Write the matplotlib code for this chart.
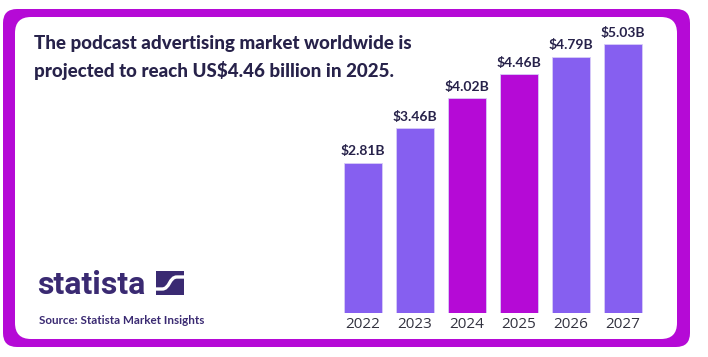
import matplotlib.pyplot as plt
from matplotlib.patches import FancyBboxPatch, Rectangle, PathPatch
from matplotlib.path import Path

years = ["2022", "2023", "2024", "2025", "2026", "2027"]
values = [2.81, 3.46, 4.02, 4.46, 4.79, 5.03]
labels = ["$2.81B", "$3.46B", "$4.02B", "$4.46B", "$4.79B", "$5.03B"]
highlight = [False, False, True, True, False, False]

W, H = 708, 357
LIGHT = "#865FF0"
MAGENTA = "#B50AD6"
NAVY = "#27224A"
LOGO = "#3A2A72"

fig = plt.figure(figsize=(W / 100, H / 100), dpi=100)
fig.patch.set_facecolor("white")

# background frame in pixel coordinates
bg = fig.add_axes([0, 0, 1, 1])
bg.set_xlim(0, W)
bg.set_ylim(H, 0)
bg.axis("off")
bg.add_patch(FancyBboxPatch((3 + 12, 9 + 12), 687 - 24, 338 - 24,
                            boxstyle="round,pad=12,rounding_size=14",
                            facecolor=MAGENTA, edgecolor="none"))
bg.add_patch(FancyBboxPatch((15 + 14, 17 + 14), 662 - 28, 322 - 28,
                            boxstyle="round,pad=14,rounding_size=16",
                            facecolor="white", edgecolor="none"))

bg.text(34, 44, "The podcast advertising market worldwide is",
        fontsize=13.5, fontweight="black", family="Lato", color=NAVY, va="center")
bg.text(34, 70, "projected to reach US$4.46 billion in 2025.",
        fontsize=13.5, fontweight="black", family="Lato", color=NAVY, va="center")

# statista logo
bg.text(37, 285, "statista", fontsize=23, fontweight="bold", family="Roboto",
        color=LOGO, va="center", ha="left")
bg.add_patch(Rectangle((156, 271), 28, 24, facecolor=LOGO, edgecolor="none"))
swoosh = Path([(156, 289), (162, 289), (170, 289), (169, 277),
               (177, 277), (184, 277)],
              [Path.MOVETO, Path.LINETO, Path.CURVE4, Path.CURVE4,
               Path.CURVE4, Path.LINETO])
bg.add_patch(PathPatch(swoosh, facecolor="none", edgecolor="white", lw=2.4))
bg.text(39, 321, "Source: Statista Market Insights", fontsize=8.4,
        fontweight="bold", family="Lato", color=LOGO, va="center")

# bar chart
ax = fig.add_axes([337 / W, (H - 313) / H, 312 / W, 293 / H])
ax.set_facecolor("none")
x = range(len(years))
colors = [MAGENTA if h else LIGHT for h in highlight]
ax.bar(x, values, width=0.73, color=colors, edgecolor="#D8CCF8", linewidth=0.6)
for i, (v, lab) in enumerate(zip(values, labels)):
    ax.text(i, v + 0.1, lab, ha="center", va="bottom", fontsize=10,
            fontweight="bold", family="Lato", color=NAVY)
ax.set_xlim(-0.5, 5.5)
ax.set_ylim(0, 293 / 53.5)
ax.set_xticks(list(x))
ax.set_xticklabels(years, fontsize=11, family="Open Sans", color="#333340")
ax.tick_params(axis="x", length=0, pad=3)
ax.set_yticks([])
for s in ax.spines.values():
    s.set_visible(False)

fig.savefig("out.png", dpi=100, facecolor="white")
